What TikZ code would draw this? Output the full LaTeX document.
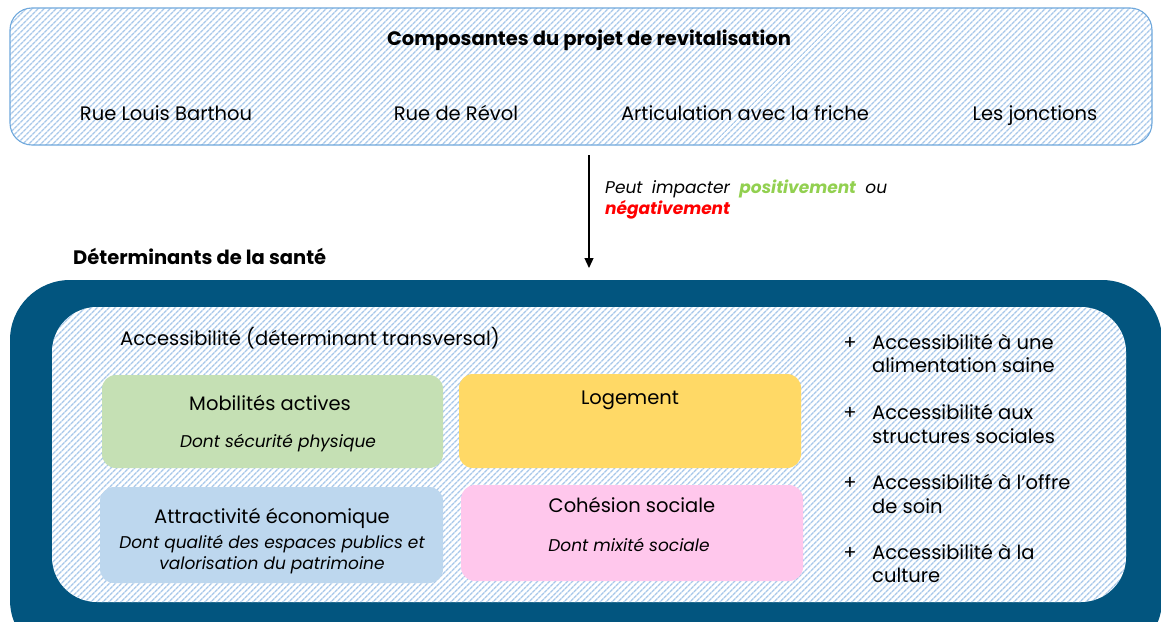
\documentclass[tikz,border=0pt]{standalone}
\usepackage{fontspec}
\setmainfont{Poppins}
\usetikzlibrary{positioning,patterns.meta,arrows.meta}
\definecolor{hatchblue}{RGB}{168,200,234}
\definecolor{frameblue}{RGB}{111,168,220}
\definecolor{deepblue}{RGB}{2,85,127}
\definecolor{mobgreen}{RGB}{197,224,180}
\definecolor{loggold}{RGB}{255,217,102}
\definecolor{ecoblue}{RGB}{189,215,238}
\definecolor{cohpink}{RGB}{255,199,236}
\definecolor{posgreen}{RGB}{146,208,80}
\definecolor{negred}{RGB}{255,0,0}
\tikzset{
  hatched/.style={preaction={fill=white},pattern={Lines[angle=45,distance=4pt,line width=1.5pt]},pattern color=hatchblue},
  txt/.style={font=\fontsize{19.5}{24}\selectfont,inner sep=0pt,anchor=base},
  subtxt/.style={font=\fontsize{17}{21}\selectfont\itshape,inner sep=0pt,align=center,anchor=base},
  headtxt/.style={font=\fontsize{19.5}{24}\selectfont\bfseries,inner sep=0pt,anchor=base},
  theme/.style={rectangle,rounded corners=14pt,inner sep=0pt},
  listtxt/.style={font=\fontsize{19.5}{23.5}\selectfont,inner sep=0pt,align=left,anchor=west},
}
\begin{document}
\begin{tikzpicture}[x=1pt,y=-1pt]
	\useasboundingbox (0,0) rectangle (1161,621);
	
	%Composantes--------------------------------
	\draw[hatched,draw=frameblue,line width=1.1pt,rounded corners=22pt] (10,8) rectangle (1152,145); %top frame
	\node[headtxt] (compo) at (589,45) {Composantes du projet de revitalisation}; %title
	\node[txt] (barthou) at (166,120) {Rue Louis Barthou};
	\node[txt] (revol) at (456,120) {Rue de Révol};
	\node[txt] (friche) at (745,120) {Articulation avec la friche};
	\node[txt] (jonctions) at (1035,120) {Les jonctions};
	
	%impact arrow
	\coordinate (from) at (589,155);
	\coordinate (to) at (589,268);
	\draw[line width=1.2pt,-{Triangle[length=10pt,width=9pt]}] (from) -- (to);
	\node[subtxt,anchor=north west,text width=282pt,align=justify] (impact) at (605,180)
		{Peut impacter {\bfseries\color{posgreen}positivement} ou {\bfseries\color{negred}négativement}};
	
	%Determinants-------------------------------
	\node[headtxt,anchor=base west] (dets) at (73,264) {Déterminants de la santé};
	\fill[deepblue,rounded corners=60pt] (10,280) rectangle (1162,660); %dark frame
	\path[hatched,rounded corners=45pt] (52,307) rectangle (1126,602); %hatched inside
	\node[txt,anchor=base west] (transv) at (120,345) {Accessibilité (déterminant transversal)};
	
		%theme boxes
		\node[theme,fill=mobgreen,minimum width=341pt,minimum height=93pt] (mob) at (272.5,421.5) {};
		\node[theme,fill=loggold,minimum width=342pt,minimum height=94pt] (log) at (630,421) {};
		\node[theme,fill=ecoblue,minimum width=343pt,minimum height=96pt] (eco) at (271.5,535) {};
		\node[theme,fill=cohpink,minimum width=342pt,minimum height=96pt] (coh) at (632,533) {};
		
		%box labels
		\node[txt] (mobhead) at (270,410) {Mobilités actives};
		\node[subtxt] (mobsub) at (278,447) {Dont sécurité physique};
		\node[txt] (loghead) at (630,404) {Logement};
		\node[txt] (ecohead) at (272,523) {Attractivité économique};
		\node[subtxt,anchor=center] (ecosub) at (272,555) {Dont qualité des espaces publics et\\valorisation du patrimoine};
		\node[txt] (cohhead) at (632,512) {Cohésion sociale};
		\node[subtxt] (cohsub) at (629,551) {Dont mixité sociale};
	
		%accessibility list
		\foreach \y/\n/\t in {353.5/alim/{Accessibilité à une\\alimentation saine},
				424/struct/{Accessibilité aux\\structures sociales},
				494/soin/{Accessibilité à l’offre\\de soin},
				563.5/cult/{Accessibilité à la\\culture}}{
			\node[txt] (plus\n) at (850,\y-4.5) {+};
			\node[listtxt] (\n) at (872,\y) {\t};
		}
\end{tikzpicture}
\end{document}
